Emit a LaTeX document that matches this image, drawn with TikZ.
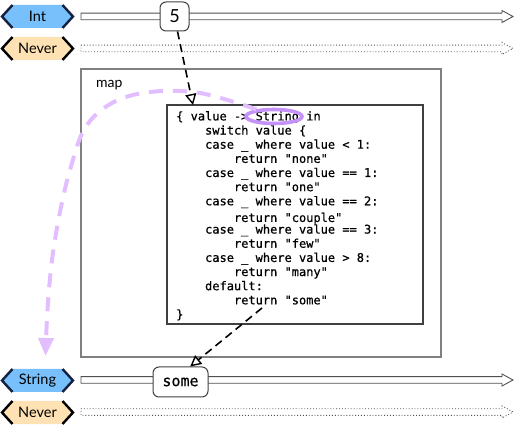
\documentclass[tikz,border=0pt]{standalone}
\usepackage{fontspec}
\setmainfont{Lato}
\newfontfamily\codefont[Ligatures=TeXOff,FakeBold=0.6]{DejaVu Sans Mono}
\usetikzlibrary{arrows.meta,shapes.geometric}
\definecolor{tagblue}{RGB}{120,192,252}
\definecolor{tagorange}{RGB}{255,226,180}
\definecolor{bluedge}{RGB}{20,32,64}
\definecolor{arccol}{RGB}{226,190,255}
\definecolor{ellcol}{RGB}{196,146,248}
\definecolor{flowcol}{RGB}{80,80,80}
\newcommand\typetag[5]{%
  \fill[#3] (2,#2) -- (12.5,#2-11.5) -- (62.5,#2-11.5) -- (73,#2) -- (62.5,#2+11.5) -- (12.5,#2+11.5) -- cycle;
  \draw[tagedge,#4] (12.5,#2-11.5) -- (2,#2) -- (12.5,#2+11.5);
  \draw[tagedge,#4] (62.5,#2-11.5) -- (73,#2) -- (62.5,#2+11.5);
  \node[tagtext] (#1) at (37.5,#2) {#5};}
\newcommand\flowline[2]{%
  \draw[flowstyle,#2] (81,#1-3.3) -- (502,#1-3.3) -- (502,#1-6) -- (513,#1) -- (502,#1+6) -- (502,#1+3.3) -- (81,#1+3.3) -- cycle;}
\newcommand\ind{\phantom{xxxx}}
\begin{document}
\begin{tikzpicture}[x=1pt,y=-1pt,
  tagedge/.style={line width=2.4pt,line join=miter,line cap=butt},
  tagtext/.style={font=\fontsize{14.5}{16}\selectfont,inner sep=0pt},
  flowstyle/.style={draw=flowcol,line width=0.9pt,line join=miter},
  valbox/.style={draw=black!75,fill=white,rounded corners=6pt,line width=1pt,inner sep=0pt},
  flowarrow/.style={dash pattern=on 8pt off 5pt,line width=1.6pt,-{Triangle[open,length=11pt,width=11pt,fill=white,line width=1.4pt]}},
  ]
\useasboundingbox (0,0) rectangle (514,427);
% flows
\flowline{16.5}{}
\flowline{48.5}{dotted}
\flowline{380}{}
\flowline{412}{dotted}
% tags
\typetag{tint}{16.5}{tagblue}{bluedge}{Int}
\typetag{tnever1}{48.5}{tagorange}{black}{Never}
\typetag{tstring}{380.5}{tagblue}{bluedge}{String}
\typetag{tnever2}{412.5}{tagorange}{black}{Never}
% map box
\node[draw=black!50,line width=1.8pt,minimum width=360pt,minimum height=288pt,inner sep=0pt] (map) at (260.75,213) {};
\node[font=\fontsize{14}{16}\selectfont,inner sep=0pt,anchor=base west] (maplabel) at (96,88) {map};
\node[draw=black!75,fill=white,line width=1.3pt,minimum width=256pt,minimum height=219pt,inner sep=0pt] (inner) at (295,214.5) {};
\node[font=\codefont\fontsize{12}{14.15}\selectfont,align=left,anchor=north west,inner sep=0pt] (code) at (176,111) {%
\{\ value\ ->\ String\ in\\
\ind switch value \{\\
\ind case \_ where value < 1:\\
\ind\ind return "none"\\
\ind case \_ where value == 1:\\
\ind\ind return "one"\\
\ind case \_ where value == 2:\\
\ind\ind \smash{\raisebox{-2.5pt}{return "couple"}}\\
\ind case \_ where value == 3:\\
\ind\ind return "few"\\
\ind case \_ where value > 8:\\
\ind\ind return "many"\\
\ind default:\\
\ind\ind return "some"\\
\}};
% highlight
\node[draw=ellcol,line width=3.6pt,ellipse,minimum width=56pt,minimum height=14pt,inner sep=0pt] (hl) at (274,116.5) {};
\coordinate (arcend) at (45.5,356);
\draw[arccol,line width=4pt,dash pattern=on 14pt off 10pt,-{Triangle[length=18pt,width=15pt]}]
  plot[smooth,tension=0.6] coordinates {(hl.158) (200,93) (150,92) (112,103) (85,128) (70,170) (60,212) (52,260) (47.5,310) (arcend)};
% values
\node[valbox,minimum width=29pt,minimum height=29pt,font=\fontsize{18}{20}\selectfont] (five) at (174.5,16.5) {5};
\node[valbox,minimum width=55pt,minimum height=30pt,font=\codefont\fontsize{15}{17}\selectfont] (some) at (180.5,382) {some};
\coordinate (in1) at (193,105);
\coordinate (out1) at (262,308);
\draw[flowarrow] ([xshift=3pt]five.south) -- (in1);
\draw[flowarrow] (out1) -- (some.58);
\end{tikzpicture}
\end{document}
